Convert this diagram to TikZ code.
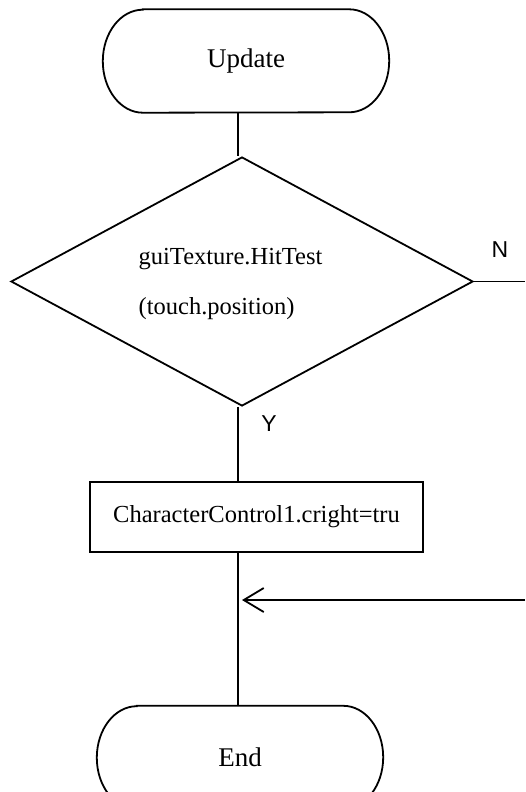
\documentclass[tikz,border=0pt]{standalone}
\usepackage{fontspec}
\setmainfont{Liberation Serif}
\newfontfamily\labelfont{Liberation Sans}
\usetikzlibrary{shapes.geometric,arrows.meta}

\tikzset{
  flow/.style={line width=1.8pt, draw=black},
  terminal/.style={rectangle, minimum width=286pt, minimum height=103pt,
    inner sep=0pt, font=\fontsize{27}{32}\selectfont},
  decision/.style={flow, diamond, minimum width=462pt, minimum height=249pt,
    inner sep=0pt},
  process/.style={flow, rectangle, minimum width=333pt, minimum height=70pt,
    inner sep=0pt, font=\fontsize{24.5}{30}\selectfont},
  bodytext/.style={align=left, inner sep=0pt, font=\fontsize{24.5}{50}\selectfont},
  branch/.style={font=\labelfont\fontsize{23}{28}\selectfont, inner sep=0pt},
  conn/.style={line width=1.8pt},
  back/.style={conn, -{Straight Barb[length=20pt,width=24pt,line width=1.8pt]}}
}

% outline of a terminator node: straight top and bottom, half-elliptic ends
\newcommand\termoutline[1]{%
  \draw[flow] ([xshift=40pt]#1.north west)
    -- ([xshift=-40pt]#1.north east)
    arc[start angle=90, end angle=-90, x radius=40pt, y radius=51.5pt]
    -- ([xshift=40pt]#1.south west)
    arc[start angle=270, end angle=90, x radius=40pt, y radius=51.5pt]
    -- cycle;}

\begin{document}
\begin{tikzpicture}[x=1pt,y=-1pt]
  \useasboundingbox (0,0) rectangle (525,792);

  % nodes
  \node[terminal] (upd) at (246,61) {Update};
  \node[decision] (dec) at (242,281.5) {};
  \node[bodytext] (dectext) at (230.5,284) {guiTexture.HitTest\\(touch.position)};
  \node[process] (act) at (256.5,517) {CharacterControl1.cright=tru};
  \node[terminal] (fin) at (240,757.5) {End};
  \termoutline{upd}
  \termoutline{fin}

  % branch labels
  \node[branch] (lblN) at (500,250) {N};
  \node[branch] (lblY) at (269,424) {Y};

  % free ends and junction
  \coordinate (nout) at (525,281.5);
  \coordinate (ret) at (525,600);
  \coordinate (join) at (242,600);

  % connectors
  \draw[conn] (upd.south -| 238,0) -- (dec.north -| 238,0);
  \draw[conn] (dec.south -| 238,0) -- (act.north -| 238,0);
  \draw[conn] (act.south -| 238,0) -- (fin.north -| 238,0);
  \draw[conn] (dec.east) -- (nout);
  \draw[back] (ret) -- (join);
\end{tikzpicture}
\end{document}
